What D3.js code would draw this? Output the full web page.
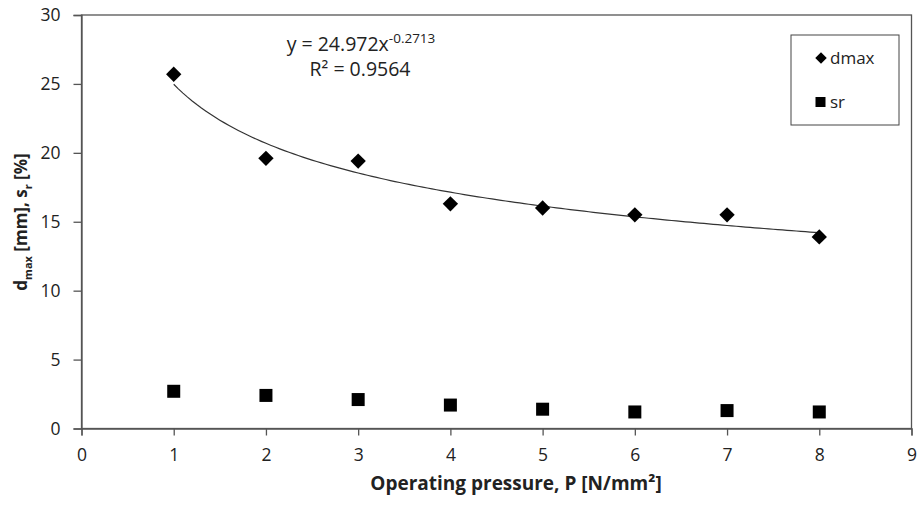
<!DOCTYPE html>
<html><head><meta charset="utf-8">
<script src="https://cdn.jsdelivr.net/npm/d3@7/dist/d3.min.js"></script>
<style>body{margin:0;background:#fff}svg{display:block}text{font-family:"Open Sans",sans-serif;fill:#222}</style>
</head><body><svg id="c" width="921" height="505"></svg>
<script>
const pressure = [1,2,3,4,5,6,7,8];
const dmax = [25.7,19.6,19.4,16.3,16.0,15.5,15.5,13.9];
const sr = [2.7,2.4,2.1,1.7,1.4,1.2,1.3,1.2];
const xTicks = [0,1,2,3,4,5,6,7,8,9];
const yTicks = [0,5,10,15,20,25,30];
const fitA = 24.972, fitB = -0.2713;

const svg = d3.select("#c");
const x = d3.scaleLinear().domain([0,9]).range([81.5,911.5]);
const y = d3.scaleLinear().domain([0,30]).range([428.5,15]);

// frame
svg.append("rect").attr("x",x(0)).attr("y",y(30)).attr("width",x(9)-x(0)).attr("height",y(0)-y(30))
  .attr("fill","none").attr("stroke","#555").attr("stroke-width",1.3);

const xa = svg.append("g").attr("transform",`translate(0,${y(0)})`)
  .call(d3.axisBottom(x).tickValues(xTicks).tickSize(7).tickPadding(13).tickFormat(d3.format("d")));
const ya = svg.append("g").attr("transform",`translate(${x(0)},0)`)
  .call(d3.axisLeft(y).tickValues(yTicks).tickSize(8).tickPadding(13).tickFormat(d3.format("d")));
[xa,ya].forEach(a=>{a.select(".domain").attr("stroke","#555").attr("stroke-width",1.3);
  a.selectAll(".tick line").attr("stroke","#555").attr("stroke-width",1.3);
  a.selectAll(".tick text").attr("font-size",17.5).style("font-family","'Open Sans', sans-serif").attr("fill","#222");});

// trend line
const fx = d3.range(1,8.001,0.05);
svg.append("path").datum(fx)
  .attr("d",d3.line().x(d=>x(d)).y(d=>y(fitA*Math.pow(d,fitB))))
  .attr("fill","none").attr("stroke","#333").attr("stroke-width",1.2);

const diamond = d3.symbol().type(d3.symbolDiamond2).size(150);
svg.selectAll(".dm").data(pressure).join("path")
  .attr("transform",(d,i)=>`translate(${x(d)},${y(dmax[i])})`).attr("d",diamond).attr("fill","#000");
svg.selectAll(".sq").data(pressure).join("rect")
  .attr("x",(d)=>x(d)-6.5).attr("y",(d,i)=>y(sr[i])-6.5).attr("width",13).attr("height",13).attr("fill","#000");

// equation
const eq = svg.append("text").attr("x",361).attr("y",51).attr("text-anchor","middle").attr("font-size",19.5);
eq.append("tspan").text("y = 24.972x");
eq.append("tspan").attr("dy",-8).attr("font-size",13.5).text("-0.2713");
svg.append("text").attr("x",360).attr("y",76).attr("text-anchor","middle").attr("font-size",19.5).text("R² = 0.9564");

// legend
svg.append("rect").attr("x",791).attr("y",35).attr("width",108).attr("height",90).attr("fill","#fff").attr("stroke","#444").attr("stroke-width",1);
svg.append("path").attr("transform","translate(821,58)").attr("d",d3.symbol().type(d3.symbolDiamond2).size(85)).attr("fill","#000");
svg.append("text").attr("x",830).attr("y",64).attr("font-size",17).text("dmax");
svg.append("rect").attr("x",815.5).attr("y",97).attr("width",10).attr("height",10).attr("fill","#000");
svg.append("text").attr("x",830).attr("y",108).attr("font-size",17).text("sr");

// axis titles
svg.append("text").attr("x",516).attr("y",490).attr("text-anchor","middle").attr("font-size",19).attr("font-weight","bold")
  .text("Operating pressure, P [N/mm²]");
const yt = svg.append("text").attr("transform","translate(27,222) rotate(-90)").attr("text-anchor","middle")
  .attr("font-size",17).attr("font-weight","bold");
yt.append("tspan").text("d");
yt.append("tspan").attr("font-size",11).attr("dy",5).text("max");
yt.append("tspan").attr("dy",-5).text(" [mm], s");
yt.append("tspan").attr("font-size",11).attr("dy",5).text("r");
yt.append("tspan").attr("dy",-5).text(" [%]");
</script></body></html>
